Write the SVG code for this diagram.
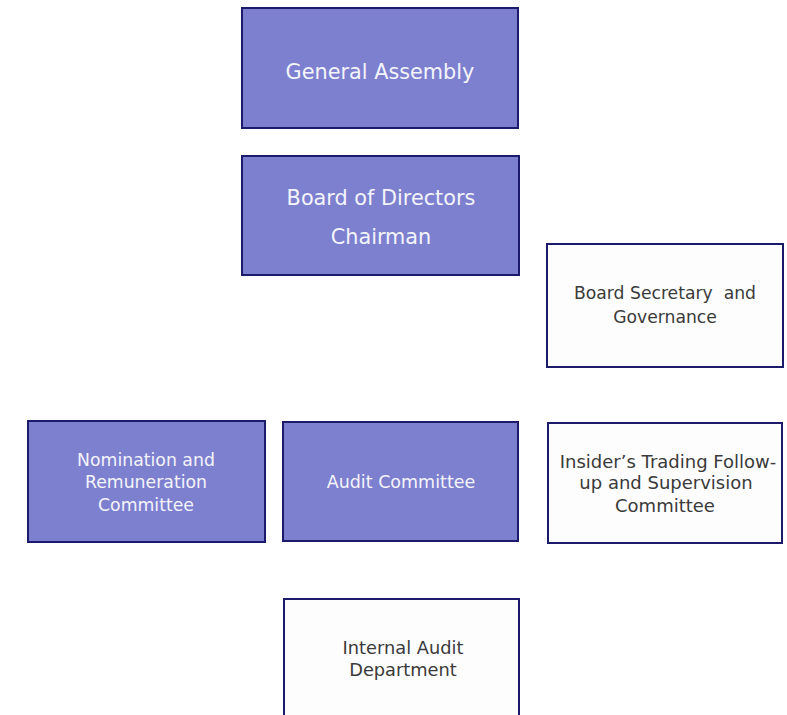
<svg xmlns="http://www.w3.org/2000/svg" width="787" height="715" viewBox="0 0 787 715">
<style>
.f{fill:#7d80cf;stroke:#1c1a6a;stroke-width:2}
.w{fill:#fdfdfd;stroke:#1c1a6a;stroke-width:2}
.tl{font-family:"DejaVu Sans","Open Sans",sans-serif;fill:#f4f4fb;text-anchor:middle}
.td{font-family:"DejaVu Sans","Open Sans",sans-serif;fill:#3a3a3a;text-anchor:middle}
</style>
<rect width="787" height="715" fill="#ffffff"/>
<g id="connectors"></g>
<g id="general-assembly">
<rect class="f" x="242" y="8" width="276" height="120"/>
<text class="tl" x="380" y="79" font-size="20.8">General Assembly</text>
</g>
<g id="board-of-directors">
<rect class="f" x="242" y="156" width="277" height="119"/>
<text class="tl" x="381" y="205" font-size="20.8">Board of Directors</text>
<text class="tl" x="381" y="244" font-size="20.8">Chairman</text>
</g>
<g id="board-secretary">
<rect class="w" x="547" y="244" width="236" height="123"/>
<text class="td" x="665" y="299" font-size="17.2" xml:space="preserve">Board Secretary  and</text>
<text class="td" x="665" y="323" font-size="17.2">Governance</text>
</g>
<g id="nomination">
<rect class="f" x="28" y="421" width="237" height="121"/>
<text class="tl" x="146" y="466" font-size="17.3">Nomination and</text>
<text class="tl" x="146" y="488" font-size="17.3">Remuneration</text>
<text class="tl" x="146" y="511" font-size="17.3">Committee</text>
</g>
<g id="audit-committee">
<rect class="f" x="283" y="422" width="235" height="119"/>
<text class="tl" x="401" y="488" font-size="17.5">Audit Committee</text>
</g>
<g id="insider-trading">
<rect class="w" x="548" y="423" width="234" height="120"/>
<text class="td" x="668" y="468" font-size="18">Insider’s Trading Follow-</text>
<text class="td" x="666" y="489" font-size="18">up and Supervision</text>
<text class="td" x="665" y="512" font-size="18">Committee</text>
</g>
<g id="internal-audit">
<rect class="w" x="284" y="599" width="235" height="130"/>
<text class="td" x="403" y="654" font-size="17.8">Internal Audit</text>
<text class="td" x="403" y="676" font-size="17.8">Department</text>
</g>
</svg>
